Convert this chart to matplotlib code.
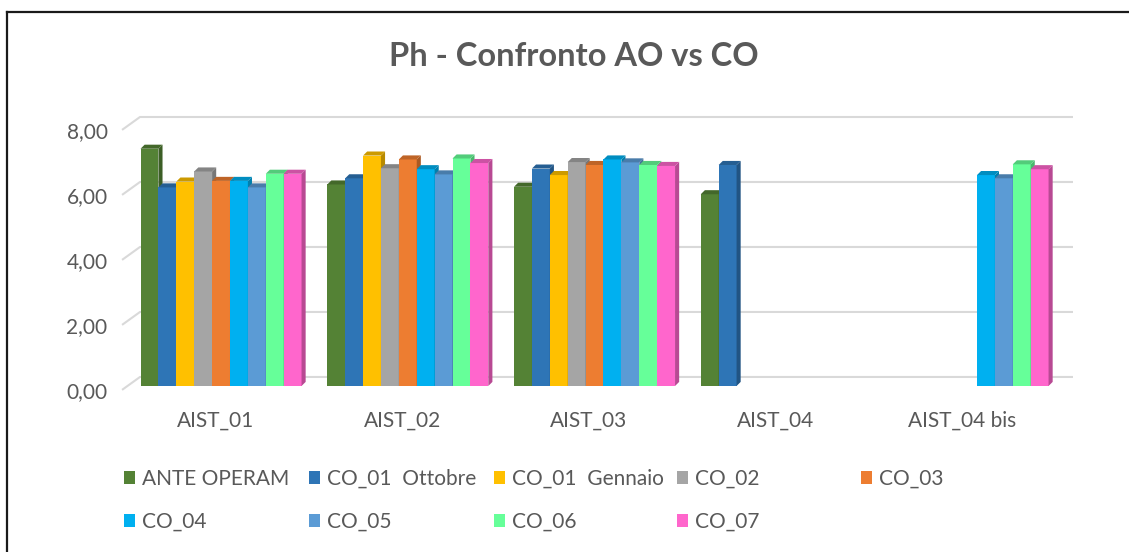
import numpy as np
import matplotlib
matplotlib.use("Agg")
import matplotlib.pyplot as plt
from matplotlib.colors import to_rgb
from matplotlib.lines import Line2D

plt.rcParams['font.family'] = ['Lato', 'DejaVu Sans']

# data
categories = ['AIST_01', 'AIST_02', 'AIST_03', 'AIST_04', 'AIST_04 bis']
series_names = ['ANTE OPERAM', 'CO_01  Ottobre', 'CO_01  Gennaio', 'CO_02', 'CO_03',
                'CO_04', 'CO_05', 'CO_06', 'CO_07']
nan = np.nan
ante_operam = [7.30, 6.20, 6.13, 5.90, nan]
co_01_ott = [6.11, 6.39, 6.69, 6.80, nan]
co_01_gen = [6.29, 7.09, 6.49, nan, nan]
co_02 = [6.60, 6.70, 6.89, nan, nan]
co_03 = [6.31, 6.97, 6.80, nan, nan]
co_04 = [6.31, 6.67, 6.97, nan, 6.49]
co_05 = [6.11, 6.51, 6.88, nan, 6.39]
co_06 = [6.53, 7.00, 6.80, nan, 6.82]
co_07 = [6.53, 6.86, 6.77, nan, 6.67]
series = [ante_operam, co_01_ott, co_01_gen, co_02, co_03, co_04, co_05, co_06, co_07]
colors = ['#548235', '#2E75B6', '#FFC000', '#A5A5A5', '#ED7D31',
          '#00B0F0', '#5B9BD5', '#66FF99', '#FF66CC']
yticks = [0, 2, 4, 6, 8]

W, H = 1129, 552
fig = plt.figure(figsize=(W / 100, H / 100), dpi=100)
ax = fig.add_axes([120 / W, 0.2831, 953 / W, 0.5122])
xmin, xmax = -0.541, 4.562
ymin, ymax = -0.3, 8.4

def darker(c, f):
    r, g, b = to_rgb(c)
    return (r * f, g * f, b * f)

# fake 3D depth of the bars
dx, dy = 0.022, 0.125
bw = 0.0958
x = np.arange(len(categories))
handles = []
for j, (vals, col) in enumerate(zip(series, colors)):
    vals = np.array(vals, dtype=float)
    pos = x + (j - 4) * bw
    z = 2 + j * 0.1
    b = ax.bar(pos, vals, width=bw, color=col, zorder=z, label=series_names[j])
    handles.append(b)
    for p, v in zip(pos, vals):
        if np.isnan(v):
            continue
        r = p + bw / 2
        l = p - bw / 2
        ax.fill([r, r + dx, r + dx, r], [0, dy, v + dy, v], color=darker(col, 0.72),
                zorder=z, lw=0)
        ax.fill([l, l + dx, r + dx, r], [v, v + dy, v + dy, v], color=darker(col, 0.8),
                zorder=z, lw=0)

# gridlines on the back wall with the slanted side wall
for v in yticks:
    ax.plot([-0.530, -0.434, xmax], [v - 0.12, v + 0.277, v + 0.277],
            color='#d9d9d9', lw=1.5, zorder=1, solid_capstyle='butt')

ax.set_xlim(xmin, xmax)
ax.set_ylim(ymin, ymax)
ax.set_xticks(x - 0.03)
ax.set_xticklabels(categories)
ax.set_yticks([v - 0.12 for v in yticks])
ax.set_yticklabels([('%.2f' % v).replace('.', ',') for v in yticks])
ax.tick_params(axis='both', length=0, labelsize=15, labelcolor='#595959')
ax.tick_params(axis='x', pad=11)
ax.tick_params(axis='y', pad=9)
for s in ax.spines.values():
    s.set_visible(False)

fig.text(574 / W, 1 - 57 / H, 'Ph - Confronto AO vs CO', ha='center', va='center',
         fontsize=23.5, fontweight='bold', color='#595959')

# legend, one column at a time like the original layout
col_x = [124, 309, 494, 677, 861]
for k in range(5):
    hs = [handles[k]]
    if k + 5 < len(handles):
        hs.append(handles[k + 5])
    fig.legend(handles=hs, loc='upper left', bbox_to_anchor=(col_x[k] / W, 1 - 469 / H),
               frameon=False, fontsize=15, labelcolor='#595959', handlelength=0.55,
               handleheight=0.6, handletextpad=0.3, labelspacing=1.1,
               borderpad=0, borderaxespad=0)

# frame of the picture (left and top edges only)
fig.add_artist(Line2D([7 / W, 7 / W], [0, 1 - 12 / H], color='#1a1a1a', lw=1.6))
fig.add_artist(Line2D([7 / W, 1], [1 - 12 / H, 1 - 12 / H], color='#1a1a1a', lw=1.6))

fig.savefig('out.png', dpi=100)
